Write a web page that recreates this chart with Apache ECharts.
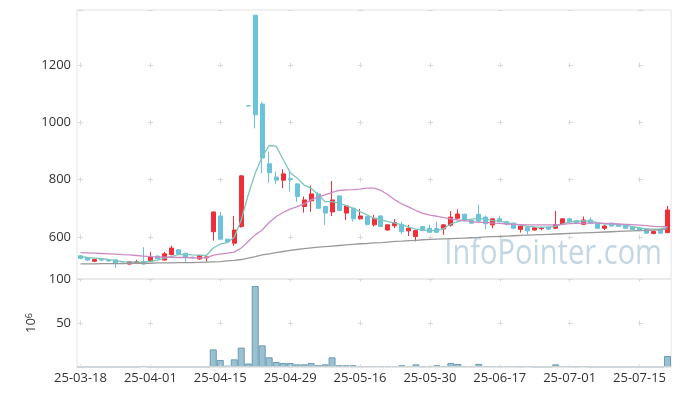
<!DOCTYPE html>
<html><head><meta charset="utf-8">
<script src="https://cdn.jsdelivr.net/npm/echarts@6/dist/echarts.min.js"></script>
<style>html,body{margin:0;padding:0;background:#fff}#c{width:680px;height:396px}</style>
</head><body><div id="c"></div>
<script>
const dates = [
'25-03-18','25-03-19','25-03-20','25-03-21','25-03-24','25-03-25','25-03-26','25-03-27','25-03-28','25-03-31',
'25-04-01','25-04-02','25-04-03','25-04-04','25-04-07','25-04-08','25-04-09','25-04-10','25-04-11','25-04-14',
'25-04-15','25-04-16','25-04-17','25-04-18','25-04-21','25-04-22','25-04-23','25-04-24','25-04-25','25-04-28',
'25-04-29','25-04-30','25-05-02','25-05-07','25-05-08','25-05-09','25-05-12','25-05-13','25-05-14','25-05-15',
'25-05-16','25-05-19','25-05-20','25-05-21','25-05-22','25-05-23','25-05-26','25-05-27','25-05-28','25-05-29',
'25-05-30','25-06-02','25-06-04','25-06-05','25-06-09','25-06-10','25-06-11','25-06-12','25-06-13','25-06-16',
'25-06-17','25-06-18','25-06-19','25-06-20','25-06-23','25-06-24','25-06-25','25-06-26','25-06-27','25-06-30',
'25-07-01','25-07-02','25-07-03','25-07-04','25-07-07','25-07-08','25-07-09','25-07-10','25-07-11','25-07-14',
'25-07-15','25-07-16','25-07-17','25-07-18','25-07-21'];

const openP = [534,528,515,521,518,520,509,505,507,513, 515,533,519,538,555,543,529,523,527,618,
 673,592,578,636,1058,1374,1064,855,809,798, 803,785,706,726,750,706,687,743,683,700,
 663,671,642,673,624,639,644,621,601,636, 630,629,628,641,665,679,658,679,669,642,
 663,653,648,626,634,624,629,634,630,645, 663,656,644,659,648,630,648,644,641,634,
 631,628,612,624,615];
const closeP = [525,519,521,519,516,508,507,513,513,505, 530,524,541,561,540,529,527,535,530,687,
 592,583,624,813,1057,1026,875,824,798,820, 800,741,729,750,700,683,729,692,708,663,
 673,644,665,636,642,650,618,630,622,622, 616,616,642,669,680,656,648,655,646,663,
 653,645,630,638,621,632,631,627,643,663, 653,648,659,647,630,638,638,637,630,626,
 622,613,619,613,694];
const lowP = [522,517,512,516,514,492,505,504,505,504, 513,522,517,536,538,514,524,520,513,587,
 588,580,569,632,1057,979,822,789,784,770, 758,723,685,688,698,642,673,690,659,653,
 660,639,636,634,622,630,610,603,584,620, 614,614,607,636,663,654,646,650,627,630,
 651,640,628,615,609,622,623,625,628,643, 651,646,642,645,628,624,636,635,628,624,
 620,611,609,611,613];
const highP = [537,529,522,523,519,521,510,514,520,564, 547,535,548,569,556,545,531,537,531,688,
 687,594,673,815,1058,1374,1072,898,828,836, 834,787,741,779,756,708,795,745,710,702,
 697,673,677,675,644,662,653,642,624,638, 642,653,644,690,696,681,660,712,675,664,
 674,656,650,639,636,634,635,636,691,666, 667,658,671,668,650,641,650,645,643,636,
 633,629,621,626,708];

const ma5 = [531,528,526,524,521,517,514,513,512,512, 515,519,526,531,538,539,537,536,535,561,
 575,580,599,659,747,822,880,919,917,870, 825,805,781,770,747,723,723,718,709,700,
 688,677,665,659,653,648,642,634,627,624, 622,622,630,645,653,659,662,664,662,657,
 655,650,645,641,637,635,634,634,637,645, 652,655,656,655,650,645,645,643,641,636,
 631,628,627,627,634];
const ma20 = [545,544,543,542,541,540,538,537,535,533, 531,530,529,529,528,528,527,527,527,536,
 540,543,547,561,584,607,624,650,671,685, 697,706,715,729,739,747,755,762,764,765,
 767,770,770,762,747,729,715,704,692,682, 676,672,667,663,659,657,653,651,651,648,
 647,645,644,643,642,642,642,642,642,644, 646,647,648,648,648,647,646,645,644,643,
 641,639,637,636,636];
const ma60 = [506,506,506,507,507,507,507,508,508,508, 508,509,509,509,510,510,510,511,512,513,
 514,516,518,521,526,531,537,541,545,549, 553,556,559,562,564,566,568,570,572,574,
 576,577,579,580,582,584,585,587,588,590, 591,592,593,594,595,596,597,598,600,601,
 602,603,604,605,606,607,608,609,610,611, 612,613,614,615,616,617,618,619,620,621,
 622,623,624,625,627];
const volume = [0,0,0,0,0,0,0,0,0,1.2, 0,0,0,0,0,0,0,0,0,20,
 8,1.5,8.7,22,4,92,24.6,11,5.7,4.5, 4.5,3,3,4.5,2,3,11,2,2,2,
 1,1,1,1,1,1,2,1,3,0.5, 1,2,1,4.5,3.5,1,1,3.5,1,1,
 1,1,1,0.5,1,0,0,0,3,1, 1,0.5,1,0,0,0,0,0,0,0,
 0,0,0,0,12.5];

const FONT = "'Open Sans', sans-serif";
const candles = dates.map((d, i) => [openP[i], closeP[i], lowP[i], highP[i]]);
const chart = echarts.init(document.getElementById('c'), null, {renderer: 'canvas'});
const gridDash = '#d9d9d9';
const labelStyle = {color: '#333', fontSize: 13, fontFamily: FONT};
chart.setOption({
  animation: false,
  backgroundColor: '#fff',
  textStyle: {fontFamily: FONT},
  grid: [
    {left: 77, right: 9, top: 10, height: 269, show: true, borderColor: '#e3e3e3', borderWidth: 1},
    {left: 77, right: 9, top: 279, height: 88, show: true, borderColor: '#e3e3e3', borderWidth: 1}
  ],
  graphic: [{
    type: 'text', x: 662, y: 254, z: 0, scaleX: 0.83, silent: true,
    style: {text: 'InfoPointer.com', x: 0, y: 0, align: 'right', verticalAlign: 'middle',
      font: "35px 'Open Sans'", fill: '#c3d7e3'}
  }],
  xAxis: [
    {type: 'category', data: dates, gridIndex: 0, boundaryGap: true,
     axisLine: {show: false}, axisTick: {show: false}, axisLabel: {show: false},
     splitLine: {show: true, interval: 9, alignWithLabel: true,
       lineStyle: {color: gridDash, width: 1, type: [5, 52.3], dashOffset: 4.7}}},
    {type: 'category', data: dates, gridIndex: 1, boundaryGap: true, z: 10,
     axisLine: {show: true, lineStyle: {color: '#e3e3e3', width: 1.5}}, axisTick: {show: false},
     axisLabel: Object.assign({interval: 9, margin: 5}, labelStyle),
     splitLine: {show: true, interval: 9, alignWithLabel: true,
       lineStyle: {color: gridDash, width: 1, type: [5, 39], dashOffset: 2.5}}}
  ],
  yAxis: [
    {type: 'value', gridIndex: 0, min: 453, max: 1392, splitNumber: 5,
     axisLine: {show: false}, axisTick: {show: false},
     axisLabel: Object.assign({margin: 6, showMinLabel: false, showMaxLabel: false,
       formatter: v => String(Math.round(v))}, labelStyle),
     splitLine: {lineStyle: {color: gridDash, width: 1, type: [5, 65], dashOffset: 69}}},
    {type: 'value', gridIndex: 1, min: 0, max: 100, interval: 50,
     axisLine: {show: false}, axisTick: {show: false},
     axisLabel: Object.assign({margin: 6, showMinLabel: false}, labelStyle),
     name: '10{s|6}', nameLocation: 'middle', nameRotate: 90, nameGap: 38,
     nameTextStyle: {color: '#333', fontSize: 13, fontFamily: FONT,
       rich: {s: {fontSize: 9, verticalAlign: 'top', color: '#333', fontFamily: FONT}}},
     splitLine: {lineStyle: {color: gridDash, width: 1, type: [5, 65], dashOffset: 69}}}
  ],
  series: [
    {type: 'candlestick', name: 'price', xAxisIndex: 0, yAxisIndex: 0, data: candles, barWidth: 4.5, z: 3,
     itemStyle: {color: '#ef2f37', color0: '#6bc2db', borderColor: '#ef2f37', borderColor0: '#6bc2db', borderWidth: 1}},
    {type: 'line', name: 'MA5', xAxisIndex: 0, yAxisIndex: 0, data: ma5, symbol: 'none', z: 4,
     lineStyle: {color: '#7cc6bd', width: 1.3}},
    {type: 'line', name: 'MA20', xAxisIndex: 0, yAxisIndex: 0, data: ma20, symbol: 'none', z: 4,
     lineStyle: {color: '#cc8ac6', width: 1.3}},
    {type: 'line', name: 'MA60', xAxisIndex: 0, yAxisIndex: 0, data: ma60, symbol: 'none', z: 4,
     lineStyle: {color: '#999999', width: 1.3}},
    {type: 'bar', name: 'volume', xAxisIndex: 1, yAxisIndex: 1, data: volume, barCategoryGap: '0%', z: 3,
     itemStyle: {color: '#9bc1d1', borderColor: '#6a9bb2', borderWidth: 1}}
  ]
});
</script></body></html>
